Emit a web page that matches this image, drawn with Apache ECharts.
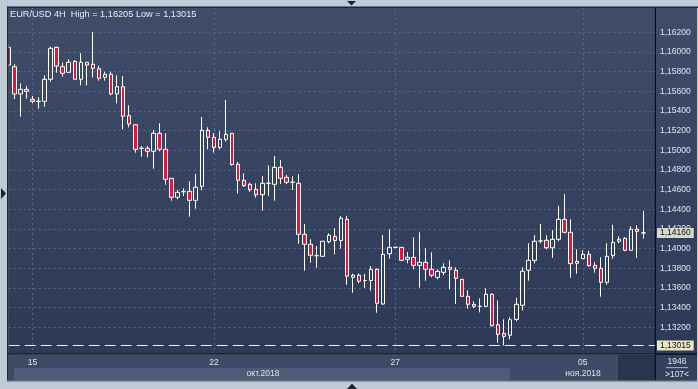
<!DOCTYPE html>
<html><head><meta charset="utf-8">
<script src="https://cdn.jsdelivr.net/npm/echarts@6/dist/echarts.min.js"></script>
<style>html,body{margin:0;padding:0;background:#c1cbd8;}#c{width:698px;height:389px;}</style>
</head><body><div id="c"></div>
<script>
// ---- data ----
const titleText = 'EUR/USD 4H  High = 1,16205 Low = 1,13015';
const opens  = [1.16047,1.15850,1.15573,1.15620,1.15519,1.15497,1.15498,1.15722,1.16047,1.15850,
                1.15793,1.15905,1.15722,1.15895,1.15875,1.15830,1.15742,1.15773,1.15573,1.15647,
                1.15352,1.15260,1.15020,1.15020,1.14990,1.15173,1.15010,1.14715,1.14522,1.14579,
                1.14583,1.14491,1.14634,1.15203,1.15132,1.15030,1.15112,1.15173,1.14858,1.14695,
                1.14654,1.14603,1.14548,1.14664,1.14654,1.14827,1.14725,1.14675,1.14664,1.14146,
                1.14044,1.13928,1.13922,1.14070,1.14123,1.14083,1.14298,1.13708,1.13729,1.13676,
                1.13676,1.13790,1.13437,1.13948,1.14013,1.14013,1.13891,1.13912,1.13830,1.13861,
                1.13790,1.13708,1.13759,1.13810,1.13780,1.13688,1.13515,1.13434,1.13413,1.13413,
                1.13536,1.13226,1.13139,1.13119,1.13281,1.13424,1.13780,1.13881,1.14078,1.14085,
                1.14009,1.14095,1.14298,1.14166,1.13851,1.13898,1.13942,1.13830,1.13800,1.13658,
                1.13928,1.14075,1.14105,1.13983,1.14197,1.14160];
const closes = [1.15867,1.15573,1.15620,1.15600,1.15498,1.15499,1.15722,1.16037,1.15857,1.15783,
                1.15895,1.15722,1.15895,1.15867,1.15834,1.15732,1.15773,1.15573,1.15647,1.15346,
                1.15267,1.15010,1.15021,1.14990,1.15173,1.15010,1.14705,1.14522,1.14573,1.14579,
                1.14491,1.14624,1.15203,1.15132,1.15030,1.15112,1.15163,1.14856,1.14695,1.14640,
                1.14599,1.14548,1.14664,1.14664,1.14827,1.14715,1.14675,1.14675,1.14146,1.14044,
                1.13932,1.13928,1.14075,1.14136,1.14083,1.14309,1.13720,1.13729,1.13668,1.13676,
                1.13790,1.13444,1.13942,1.14013,1.14014,1.13881,1.13912,1.13830,1.13861,1.13790,
                1.13729,1.13769,1.13810,1.13790,1.13698,1.13515,1.13434,1.13413,1.13413,1.13536,
                1.13216,1.13129,1.13108,1.13277,1.13434,1.13770,1.13881,1.14075,1.14078,1.14009,
                1.14095,1.14298,1.14166,1.13847,1.13871,1.13942,1.13826,1.13800,1.13658,1.13922,
                1.14064,1.14095,1.13983,1.14197,1.14176,1.14160];
const lows   = [1.15847,1.15522,1.15342,1.15525,1.15478,1.15423,1.15443,1.15698,1.15789,1.15748,
                1.15790,1.15720,1.15661,1.15661,1.15742,1.15708,1.15708,1.15559,1.15478,1.15214,
                1.15234,1.14976,1.14935,1.14929,1.14813,1.14990,1.14650,1.14487,1.14502,1.14535,
                1.14325,1.14406,1.14593,1.15010,1.14976,1.15010,1.15089,1.14843,1.14561,1.14627,
                1.14579,1.14518,1.14386,1.14535,1.14487,1.14657,1.14657,1.14596,1.14050,1.13776,
                1.13857,1.13806,1.13920,1.14054,1.13942,1.13999,1.13632,1.13552,1.13647,1.13600,
                1.13572,1.13348,1.13430,1.13898,1.14012,1.13879,1.13851,1.13790,1.13603,1.13674,
                1.13708,1.13688,1.13729,1.13586,1.13437,1.13513,1.13389,1.13393,1.13352,1.13411,
                1.13206,1.13043,1.13015,1.13078,1.13261,1.13371,1.13674,1.13851,1.14054,1.13993,
                1.13908,1.14075,1.14156,1.13704,1.13745,1.13897,1.13816,1.13755,1.13511,1.13633,
                1.13898,1.14054,1.13973,1.13981,1.13908,1.14101];
const highs  = [1.16081,1.15875,1.15681,1.15654,1.15552,1.15539,1.15763,1.16054,1.16054,1.15891,
                1.15925,1.15918,1.15986,1.15898,1.16205,1.15860,1.15799,1.15799,1.15763,1.15756,
                1.15458,1.15262,1.15044,1.15044,1.15206,1.15275,1.15173,1.14717,1.14596,1.14613,
                1.14685,1.14759,1.15339,1.15234,1.15173,1.15193,1.15511,1.15176,1.14881,1.14766,
                1.14670,1.14664,1.14739,1.14847,1.14942,1.14901,1.14749,1.14739,1.14759,1.14250,
                1.14095,1.14027,1.14078,1.14156,1.14207,1.14332,1.14332,1.13745,1.13747,1.13742,
                1.13823,1.13800,1.14139,1.14197,1.14015,1.14015,1.13966,1.14115,1.14166,1.14003,
                1.13963,1.13790,1.13851,1.13881,1.13810,1.13691,1.13576,1.13464,1.13495,1.13597,
                1.13546,1.13474,1.13281,1.13302,1.13501,1.13810,1.14054,1.14136,1.14250,1.14136,
                1.14189,1.14434,1.14556,1.14298,1.13993,1.13983,1.13979,1.13864,1.13912,1.14054,
                1.14243,1.14125,1.14115,1.14227,1.14237,1.14383];
const barCount = 107;                       // visible bars (">107<")
const categories = Array.from({length: barCount}, (_, i) => 'bar ' + (i + 1));
const xTickIndex = [4, 34, 64, 95];
const xTickText  = ['15', '22', '27', '05'];
const monthText  = ['окт.2018', 'ноя.2018'];
const yTicks = [1.132,1.134,1.136,1.138,1.140,1.142,1.144,1.146,1.148,1.150,1.152,1.154,1.156,1.158,1.160,1.162];
const lastPrice = 1.14160;
const lowPrice  = 1.13015;
const barsInfo = ['1946', '>107<'];

// ---- chart ----
const ohlc = opens.map((o, i) => [o, closes[i], lows[i], highs[i]]);
const fmt = v => Number(v).toFixed(5).replace('.', ',');
const isTick = idx => xTickIndex.indexOf(idx) >= 0;
const FONT = 'Liberation Sans';
const TXT = '#dfe5ee';
const Y_MIN = 1.1292847, Y_MAX = 1.1644712;
const plotGrad = {type: 'linear', x: 0, y: 0, x2: 0, y2: 1,
  colorStops: [{offset: 0, color: '#3f4d69'}, {offset: 1, color: '#2c3a58'}]};
const gridLine = {color: '#5a6986', width: 1, type: [2, 3]};
const priceLabel = (bg) => ({show: true, position: 'end', distance: 2, formatter: p => fmt(p.value),
  backgroundColor: bg, color: '#111', padding: [1, 3, 0, 3], fontSize: 8.5, fontFamily: FONT, opacity: 1});

const chart = echarts.init(document.getElementById('c'), null, {renderer: 'canvas'});
chart.setOption({
  animation: false,
  backgroundColor: '#c1cbd8',
  title: {text: titleText, left: 10, top: 10, padding: 0,
    textStyle: {color: '#e9edf3', fontSize: 9.2, fontWeight: 'normal', fontFamily: FONT}},
  grid: [
    {left: 8.7, right: 43, top: 8, bottom: 35, show: true, borderWidth: 0, backgroundColor: plotGrad},
    {left: 5.226, width: 647.14, top: 8, bottom: 35},
    {left: 8.25, width: 641.09, top: 8, bottom: 35}
  ],
  xAxis: [
    {gridIndex: 0, type: 'value', min: 0, max: 1, show: false},
    {gridIndex: 1, type: 'category', data: categories, boundaryGap: true, show: false},
    {gridIndex: 2, type: 'category', data: categories, boundaryGap: false,
      axisLine: {show: false}, axisTick: {show: false},
      axisLabel: {interval: (i) => isTick(i), formatter: (v, i) => xTickText[xTickIndex.indexOf(i)] || '',
        color: TXT, fontSize: 8.5, fontFamily: FONT, margin: 4},
      splitLine: {show: true, interval: (i) => isTick(i), lineStyle: gridLine}}
  ],
  yAxis: [
    {gridIndex: 0, type: 'value', position: 'right', min: Y_MIN, max: Y_MAX,
      axisLine: {show: false}, axisTick: {show: false, customValues: yTicks},
      axisLabel: {customValues: yTicks, formatter: fmt, color: TXT, fontSize: 8.5, fontFamily: FONT, margin: 5},
      splitLine: {show: true, lineStyle: gridLine}},
    {gridIndex: 1, type: 'value', min: Y_MIN, max: Y_MAX, show: false},
    {gridIndex: 2, type: 'value', min: Y_MIN, max: Y_MAX, show: false}
  ],
  series: [
    {type: 'candlestick', xAxisIndex: 1, yAxisIndex: 1, data: ohlc, barWidth: 4, z: 3,
      itemStyle: {color: 'rgba(0,0,0,0)', color0: '#e3163a', borderColor: '#ffffff',
        borderColor0: '#ffffff', borderColorDoji: '#ffffff', borderWidth: 1}},
    {type: 'line', xAxisIndex: 0, yAxisIndex: 0, data: [], silent: true, z: 4,
      markLine: {symbol: 'none', silent: true, animation: false, precision: 5,
        data: [
          {yAxis: lowPrice, lineStyle: {color: '#e8ecf2', width: 1, type: [11, 5]}, label: priceLabel('#ebe7c4')},
          {yAxis: lastPrice, lineStyle: {color: 'rgba(0,0,0,0)', width: 1, type: 'solid'}, label: priceLabel('#d9d8cf')}
        ]}}
  ],
  graphic: [
    // frame strips over plot edges
    {type: 'rect', z: 100, shape: {x: 0, y: 0, width: 7, height: 389}, style: {fill: '#c1cbd8'}},
    {type: 'rect', z: 100, shape: {x: 0, y: 0, width: 698, height: 6.5}, style: {fill: '#c1cbd8'}},
    {type: 'rect', z: 100, shape: {x: 7, y: 6.5, width: 691, height: 1.5}, style: {fill: '#1e2738'}},
    {type: 'rect', z: 100, shape: {x: 7, y: 6.5, width: 1.7, height: 375}, style: {fill: '#1e2738'}},
    // right price panel
    {type: 'rect', z: -1, shape: {x: 655, y: 8, width: 42, height: 347}, style: {fill: plotGrad}},
    {type: 'rect', z: -1, shape: {x: 697, y: 0, width: 1, height: 389}, style: {fill: '#c1cbd8'}},
    // bottom time panel
    {type: 'rect', z: -1, shape: {x: 8.7, y: 355, width: 647, height: 26}, style: {fill: '#3d4a65'}},
    {type: 'rect', z: -1, shape: {x: 14, y: 368, width: 496, height: 12.7}, style: {fill: '#4c5b76'}},
    {type: 'rect', z: -1, shape: {x: 617, y: 355, width: 38, height: 26}, style: {fill: '#29344e'}},
    {type: 'rect', z: -1, shape: {x: 616.5, y: 355, width: 1, height: 26}, style: {fill: '#4f5b74'}},
    {type: 'rect', z: -1, shape: {x: 656, y: 355, width: 41, height: 26}, style: {fill: '#33405c'}},
    {type: 'rect', z: 100, shape: {x: 7, y: 380.7, width: 691, height: 8.3}, style: {fill: '#c1cbd8'}},
    {type: 'rect', z: 100, shape: {x: 7, y: 380.5, width: 690, height: 1}, style: {fill: '#5b6577'}},
    // axis lines
    {type: 'rect', z: 90, shape: {x: 7, y: 353.5, width: 690, height: 1.2}, style: {fill: '#0a0e16'}},
    {type: 'rect', z: 90, shape: {x: 654.8, y: 8, width: 1.2, height: 373}, style: {fill: '#0a0e16'}},
    // month labels
    {type: 'text', z: 95, style: {text: monthText[0], x: 263, y: 374, align: 'center', verticalAlign: 'middle',
      fill: TXT, fontSize: 8.5, fontFamily: FONT}},
    {type: 'text', z: 95, style: {text: monthText[1], x: 583, y: 374, align: 'center', verticalAlign: 'middle',
      fill: TXT, fontSize: 8.5, fontFamily: FONT}},
    // bars info
    {type: 'text', z: 95, style: {text: barsInfo[0], x: 677, y: 362, align: 'center', verticalAlign: 'middle',
      fill: TXT, fontSize: 8.5, fontFamily: FONT}},
    {type: 'rect', z: 95, shape: {x: 666, y: 367.3, width: 22, height: 0.8}, style: {fill: '#c9d1dc'}},
    {type: 'text', z: 95, style: {text: barsInfo[1], x: 677, y: 374.5, align: 'center', verticalAlign: 'middle',
      fill: TXT, fontSize: 8.5, fontFamily: FONT}},
    // scroll arrows
    {type: 'polygon', z: 101, shape: {points: [[347, 1], [356, 1], [351.5, 5.5]]}, style: {fill: '#1a2232'}},
    {type: 'polygon', z: 101, shape: {points: [[347, 389], [357, 389], [352, 383.5]]}, style: {fill: '#1a2232'}},
    {type: 'polygon', z: 101, shape: {points: [[1, 188], [1, 199], [6, 193.5]]}, style: {fill: '#1a2232'}}
  ]
});
</script>
</body></html>
